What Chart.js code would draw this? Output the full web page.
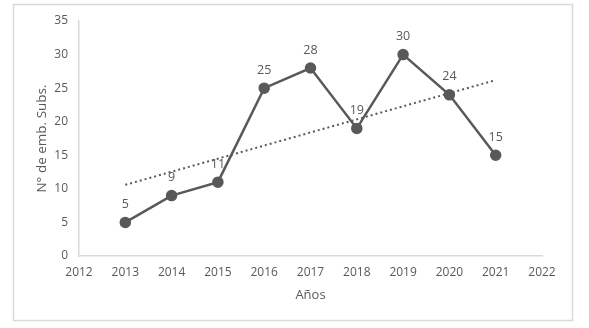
<!DOCTYPE html>
<html>
<head>
<meta charset="utf-8">
<script src="https://cdn.jsdelivr.net/npm/chart.js@4/dist/chart.umd.min.js"></script>
<style>
  html, body { margin: 0; padding: 0; background: #fff; }
  #wrap { width: 589px; height: 328px; position: relative; }
</style>
</head>
<body>
<div id="wrap"><canvas id="chart" width="589" height="328"></canvas></div>
<script>
// Data
const years = [2013, 2014, 2015, 2016, 2017, 2018, 2019, 2020, 2021];
const subs = [5, 9, 11, 25, 28, 19, 30, 24, 15];
const trendYears = [2013, 2021];
const trendValues = [10.6, 26.2];
const yTicks = [0, 5, 10, 15, 20, 25, 30, 35];

const gray = '#595959';
const axisGray = '#d9d9d9';
const fontFamily = "'Open Sans', 'Liberation Sans', sans-serif";

// outer frame like the Excel chart area
const framePlugin = {
    id: 'frame',
    beforeDraw(chart) {
        const c = chart.ctx;
        c.save();
        c.fillStyle = '#fff';
        c.fillRect(0, 0, chart.width, chart.height);
        c.strokeStyle = axisGray;
        c.lineWidth = 1.5;
        c.strokeRect(13.5, 4.5, 559, 316);
        c.restore();
    }
};

// value labels above the points
const valueLabels = {
    id: 'valueLabels',
    afterDatasetsDraw(chart) {
        const c = chart.ctx;
        const meta = chart.getDatasetMeta(0);
        c.save();
        c.fillStyle = gray;
        c.font = '12.5px ' + fontFamily;
        c.textAlign = 'center';
        c.textBaseline = 'middle';
        meta.data.forEach((pt, i) => {
            c.fillText(String(subs[i]), pt.x, pt.y - 18);
        });
        c.restore();
    }
};

const ctx = document.getElementById('chart').getContext('2d');
new Chart(ctx, {
    type: 'line',
    data: {
        datasets: [
            {
                label: 'Subs',
                data: years.map((y, i) => ({ x: y, y: subs[i] })),
                borderColor: gray,
                backgroundColor: gray,
                borderWidth: 2.5,
                pointRadius: 4.5,
                pointBackgroundColor: gray,
                pointBorderColor: gray,
                tension: 0
            },
            {
                label: 'Tendencia',
                data: trendYears.map((y, i) => ({ x: y, y: trendValues[i] })),
                borderColor: gray,
                borderWidth: 2,
                borderDash: [2, 3],
                pointRadius: 0,
                fill: false
            }
        ]
    },
    options: {
        responsive: false,
        animation: false,
        layout: { padding: { left: 0, right: 47, top: 21, bottom: 0 } },
        plugins: {
            legend: { display: false },
            tooltip: { enabled: false }
        },
        scales: {
            x: {
                type: 'linear',
                min: 2012,
                max: 2022,
                grid: { display: false, drawTicks: false },
                border: { display: true, color: axisGray, width: 1.5 },
                ticks: {
                    stepSize: 1,
                    color: gray,
                    padding: 9,
                    font: { family: fontFamily, size: 12 },
                    callback: v => String(v)
                },
                title: {
                    display: true,
                    text: 'Años',
                    color: gray,
                    font: { family: fontFamily, size: 13 },
                    padding: { top: 0, bottom: 25 }
                },
                afterFit(scale) { scale.height = 72; }
            },
            y: {
                min: 0,
                max: 35,
                grid: { display: false, drawTicks: false },
                border: { display: true, color: axisGray, width: 1.5 },
                afterBuildTicks(scale) { scale.ticks = yTicks.map(v => ({ value: v })); },
                ticks: {
                    color: gray,
                    padding: 11,
                    font: { family: fontFamily, size: 12 }
                },
                title: {
                    display: true,
                    text: 'N° de emb. Subs.',
                    color: gray,
                    font: { family: fontFamily, size: 13.5 },
                    padding: { top: 34, bottom: 0 }
                },
                afterFit(scale) { scale.width = 79; }
            }
        }
    },
    plugins: [framePlugin, valueLabels]
});
</script>
</body>
</html>
